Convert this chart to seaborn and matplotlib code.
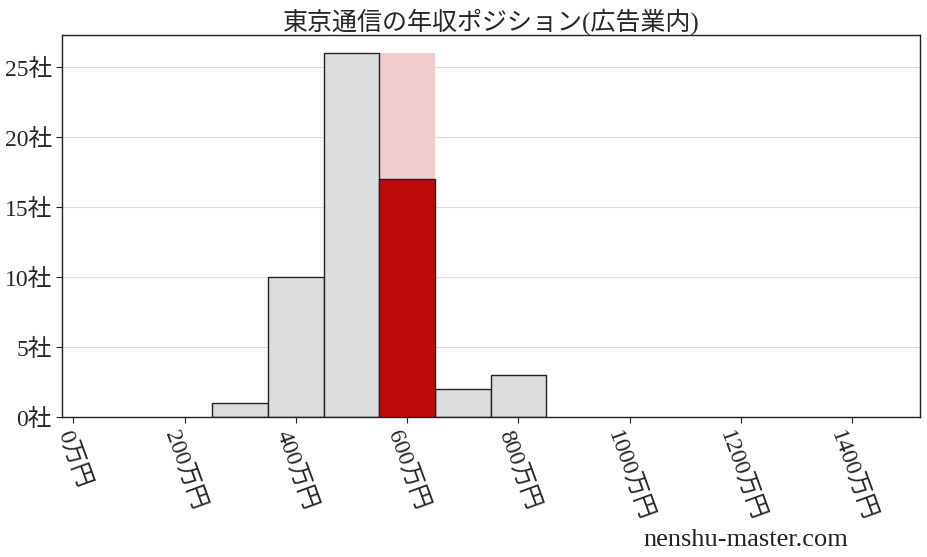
import matplotlib
matplotlib.use("Agg")
import matplotlib.pyplot as plt
import seaborn as sns

# industry salary distribution (bin centers in 万円, number of companies)
bin_centers = [300, 400, 500, 700, 800]
bin_counts = [1, 10, 26, 2, 3]
bin_edges = list(range(250, 950, 100))

# highlighted bin for the company
target_center = 600
target_total = 26
target_count = 17

xticks = [0, 200, 400, 600, 800, 1000, 1200, 1400]
yticks = [0, 5, 10, 15, 20, 25]

sns.set_style("white")
plt.rcParams['font.family'] = ['Liberation Serif', 'Noto Sans CJK JP']

fig, ax = plt.subplots(figsize=(9.28, 5.57), dpi=100)
fig.subplots_adjust(left=0.067, right=0.991, top=0.937, bottom=0.251)

ax.yaxis.grid(True, color="#dddddd", linewidth=0.8)
ax.set_axisbelow(True)

ax.bar([target_center], [target_total], width=100, color="#f0cccc", linewidth=0, zorder=0.8)

sns.histplot(x=bin_centers, weights=bin_counts, bins=bin_edges, ax=ax,
             color="#dcdddf", edgecolor="#222222", linewidth=1, alpha=1)

ax.bar([target_center], [target_count], width=100, color="#bf0a0a",
       edgecolor="#222222", linewidth=1, zorder=4)

ax.set_xlim(-20, 1521)
ax.set_ylim(0, 27.3)
ax.set_xticks(xticks)
ax.set_xticklabels([f"{v}万円" for v in xticks], rotation=-70, ha="center", va="top", fontsize=17)
ax.set_yticks(yticks)
ax.set_yticklabels([f"{v}社" for v in yticks], fontsize=17)
ax.tick_params(axis="both", length=4, color="#222222", direction="out", bottom=True, left=True)
ax.set_xlabel("")
ax.set_ylabel("")
for s in ax.spines.values():
    s.set_color("#222222")
    s.set_linewidth(1)

ax.set_title("東京通信の年収ポジション(広告業内)", fontsize=18, pad=4)
fig.text(0.914, 0.01, "nenshu-master.com", ha="right", va="bottom", fontsize=19, color="#222222")

fig.savefig("out.png", dpi=100)
